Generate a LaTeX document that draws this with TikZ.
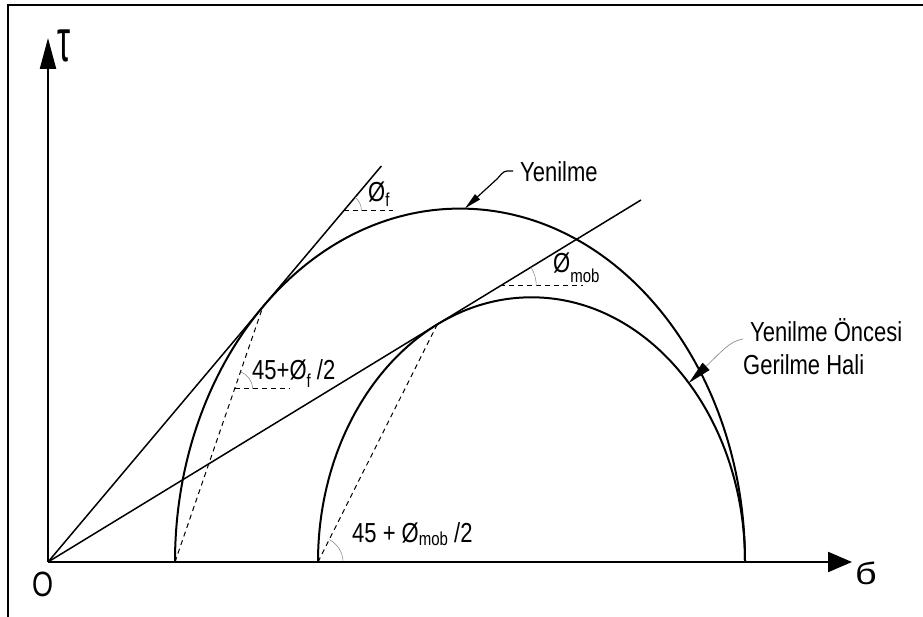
\documentclass[tikz,border=0pt]{standalone}
\usepackage{fontspec}
\setmainfont{Liberation Sans}
\usetikzlibrary{arrows.meta}
\newcommand\vst[1]{\scalebox{1}[1.25]{#1}}
\newcommand\subt[2]{\raisebox{#1}{\fontsize{15}{15}\selectfont #2}}
\begin{document}
\begin{tikzpicture}[x=1pt,y=1pt,
  lbl/.style={inner sep=0pt, anchor=base west, font=\fontsize{22}{26}\selectfont},
  axisline/.style={line width=2.2pt},
  mohr/.style={line width=2pt},
  tline/.style={line width=1.5pt},
  dline/.style={line width=1pt, dash pattern=on 5pt off 4pt},
  angarc/.style={line width=0.5pt, gray},
  framel/.style={line width=2pt},
  leader/.style={line width=1.2pt}]
\useasboundingbox (0,0) rectangle (923,617);
\draw[framel] (8,0) -- (8,612) -- (923,612);
% key points
\coordinate (O) at (48,55);
\coordinate (ytip) at (48,579);
\coordinate (xtip) at (852,55);
\coordinate (Bl) at (175,55);
\coordinate (Sl) at (318,55);
\coordinate (Bt) at (262.85,310.2);
\coordinate (St) at (437.2,292.5);
\coordinate (Fend) at (381.4,451);
\coordinate (Mend) at (641,417);
\coordinate (Pf) at (343.5,406);
\coordinate (Pfe) at (393,406);
\coordinate (Pm) at (500.3,331);
\coordinate (Pme) at (583,331);
\coordinate (Pc) at (234.6,228);
\coordinate (Pce) at (290,228);
% Mohr circles
\draw[mohr] (Bl) arc[start angle=180,end angle=0,x radius=285,y radius=353.4];
\draw[mohr] (Sl) arc[start angle=180,end angle=0,x radius=213.5,y radius=264.7];
% envelopes
\draw[tline] (O) -- (Fend);
\draw[tline] (O) -- (Mend);
% pole lines
\draw[dline] (Bl) -- (Bt);
\draw[dline] (Sl) -- (St);
% angle marks
\draw[dline] (Pf) -- (Pfe);
\draw[angarc] ([xshift=18pt]Pf) arc[start angle=0,end angle=49.9,radius=18];
\draw[dline] (Pm) -- (Pme);
\draw[angarc] ([xshift=36pt]Pm) arc[start angle=0,end angle=31.4,radius=36];
\draw[dline] (Pc) -- (Pce);
\draw[angarc] ([xshift=18pt]Pc) arc[start angle=0,end angle=71.0,radius=18];
\draw[angarc] ([xshift=25pt]Sl) arc[start angle=0,end angle=63.35,radius=25];
% axes
\draw[axisline, -{Triangle[length=24pt,width=20pt]}] (O) -- (xtip);
\draw[axisline, -{Triangle[length=31pt,width=16pt]}] (O) -- (ytip);
% labels
\node[lbl] (tau) at (57,555) {\scalebox{1.1}[2.0]{\fontsize{30}{30}\selectfont τ}};
\node[lbl] (sig) at (855,32) {\scalebox{1.35}[1.1]{\fontsize{28}{28}\selectfont б}};
\node[lbl] (olbl) at (32,20) {\scalebox{1}[1.3]{\fontsize{27}{27}\selectfont O}};
\node[lbl] (phif) at (368,415) {\vst{Ø\subt{-4pt}{f}}};
\node[lbl] (phim) at (553,344) {\vst{Ø\subt{-8pt}{mob}}};
\node[lbl] (angf) at (252,237) {\vst{45+Ø\subt{-6pt}{f} /2}};
\node[lbl] (angm) at (352,74) {\vst{45 + Ø\subt{-2pt}{mob} /2}};
\node[lbl] (yen) at (520,435) {\vst{Yenilme}};
\node[lbl] (yo1) at (750,275) {\vst{Yenilme Öncesi}};
\node[lbl] (yo2) at (743,242) {\vst{Gerilme Hali}};
% leaders
\coordinate (ytop) at (465,408.7);
\coordinate (ys) at (513,446);
\draw[leader, -{Triangle[length=17pt,width=7pt]}] (ys) -- (507,446) .. controls (503,446) and (500,441) .. (497,438) -- (ytop);
\coordinate (os) at (743,278);
\coordinate (otip) at (688.8,234);
\draw[line width=0.6pt, gray, -{Triangle[length=24pt,width=10pt,color=black]}] (os) .. controls (730,276) and (722,266) .. (otip);
\end{tikzpicture}
\end{document}
